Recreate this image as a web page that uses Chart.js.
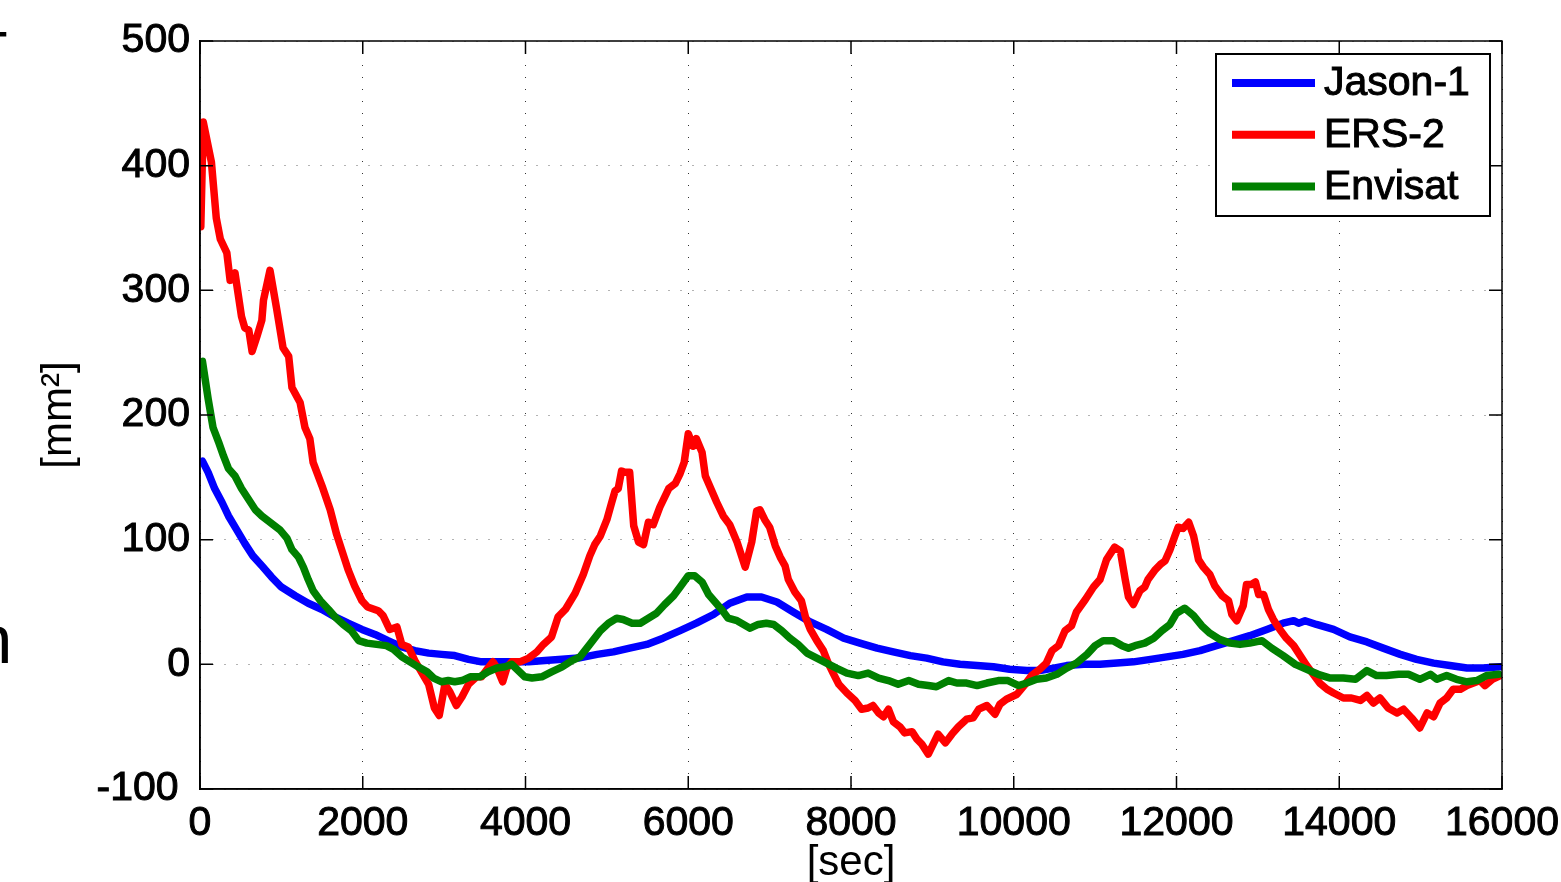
<!DOCTYPE html>
<html>
<head>
<meta charset="utf-8">
<script src="https://cdn.jsdelivr.net/npm/chart.js@4.4.0/dist/chart.umd.min.js"></script>
<style>
  html, body { margin: 0; padding: 0; background: #fff; }
  #wrap { width: 1561px; height: 882px; }
</style>
</head>
<body>
<div id="wrap"><canvas id="chart" width="1561" height="882"></canvas></div>
<script>
const FONT = "'Liberation Sans', Arial, Helvetica, sans-serif"

const seriesNames = ['Jason-1', 'ERS-2', 'Envisat']
const seriesColors = ['#0000ff', '#ff0000', '#008000']

// time [sec] and value [mm^2] per satellite
const jasonT = [30, 100, 180, 270, 350, 450, 550, 650, 760, 880,
  1000, 1170, 1330, 1500, 1660, 1820, 1990, 2150, 2310, 2480,
  2640, 2810, 2970, 3130, 3300, 3460, 3630, 3830, 4040, 4240,
  4450, 4650, 4880, 5080, 5280, 5490, 5690, 5900, 6100, 6310,
  6510, 6720, 6900, 7090, 7290, 7500, 7700, 7910, 8110, 8320,
  8520, 8730, 8930, 9130, 9340, 9550, 9750, 9950, 10160, 10320,
  10490, 10650, 10860, 11060, 11270, 11470, 11680, 11880, 12080, 12290,
  12490, 12700, 12900, 13110, 13310, 13440, 13500, 13580, 13720, 13930,
  14130, 14340, 14540, 14750, 14950, 15160, 15360, 15570, 15770, 15980]
const jasonV = [163, 154, 141, 130, 119, 108, 97, 87, 79, 70,
  62, 55, 49, 44, 38, 33, 28, 24, 19, 14,
  11, 9, 8, 7, 4, 2, 2, 2, 2, 3,
  4, 5, 8, 10, 13, 16, 21, 27, 33, 40,
  49, 54, 54, 50, 42, 34, 28, 21, 17, 13,
  10, 7, 5, 2, 0, -1, -2, -4, -5, -5,
  -3, -1, 0, 0, 1, 2, 4, 6, 8, 11,
  15, 19, 23, 28, 33, 35, 33, 35, 32, 28,
  22, 18, 13, 8, 4, 1, -1, -3, -3, -2]

const ersT = [10, 40, 140, 200, 250, 330, 370, 430, 510, 550,
  600, 640, 700, 760, 780, 860, 940, 1020, 1090, 1130,
  1230, 1290, 1350, 1390, 1500, 1600, 1680, 1740, 1820, 1900,
  1990, 2060, 2190, 2250, 2330, 2420, 2480, 2560, 2640, 2720,
  2810, 2880, 2940, 3010, 3070, 3150, 3220, 3300, 3400, 3460,
  3540, 3600, 3650, 3720, 3770, 3830, 3930, 4040, 4140, 4220,
  4320, 4400, 4490, 4610, 4710, 4790, 4850, 4920, 5000, 5060,
  5100, 5140, 5180, 5220, 5280, 5330, 5390, 5450, 5510, 5570,
  5650, 5760, 5840, 5900, 5950, 6000, 6060, 6100, 6170, 6210,
  6290, 6350, 6430, 6510, 6600, 6700, 6780, 6840, 6880, 6940,
  7000, 7070, 7130, 7190, 7230, 7310, 7390, 7440, 7500, 7580,
  7660, 7720, 7780, 7850, 7950, 8050, 8130, 8210, 8270, 8340,
  8400, 8460, 8520, 8600, 8660, 8750, 8810, 8870, 8950, 9010,
  9070, 9160, 9240, 9320, 9420, 9500, 9570, 9670, 9770, 9830,
  9910, 10040, 10140, 10220, 10320, 10400, 10470, 10550, 10630, 10710,
  10770, 10880, 10980, 11060, 11140, 11240, 11310, 11370, 11410, 11470,
  11550, 11610, 11650, 11740, 11800, 11860, 11920, 11980, 12020, 12080,
  12150, 12210, 12270, 12330, 12410, 12470, 12560, 12640, 12680, 12740,
  12820, 12860, 12920, 12970, 13010, 13070, 13130, 13190, 13270, 13350,
  13440, 13520, 13600, 13680, 13760, 13850, 13930, 14050, 14150, 14260,
  14340, 14420, 14500, 14600, 14710, 14790, 14890, 14990, 15080, 15160,
  15240, 15320, 15400, 15490, 15570, 15650, 15730, 15790, 15880, 15980]
const ersV = [351, 435, 403, 358, 341, 330, 308, 314, 279, 270,
  268, 251, 263, 276, 292, 316, 286, 254, 247, 222,
  210, 190, 181, 162, 143, 124, 104, 92, 76, 63,
  51, 46, 43, 39, 28, 30, 16, 14, 3, -6,
  -16, -35, -41, -16, -22, -33, -26, -16, -10, -10,
  -3, 2, -3, -14, -3, 2, 2, 5, 10, 16,
  22, 38, 44, 57, 72, 87, 96, 103, 116, 130,
  139, 141, 155, 154, 154, 111, 98, 96, 114, 112,
  126, 141, 145, 153, 162, 185, 175, 181, 170, 151,
  139, 130, 119, 112, 98, 78, 98, 123, 124, 116,
  110, 95, 86, 79, 68, 58, 51, 38, 28, 19,
  11, 1, -7, -16, -23, -29, -36, -35, -33, -39,
  -42, -36, -46, -50, -55, -54, -60, -64, -72, -64,
  -56, -63, -56, -50, -44, -43, -36, -33, -40, -32,
  -28, -24, -16, -9, -4, 1, 11, 15, 27, 31,
  42, 52, 62, 68, 84, 94, 91, 68, 54, 48,
  59, 62, 68, 76, 80, 83, 92, 103, 110, 109,
  114, 103, 84, 78, 72, 63, 55, 51, 40, 35,
  47, 64, 64, 66, 56, 56, 44, 36, 28, 21,
  15, 7, -1, -8, -15, -20, -23, -27, -27, -29,
  -25, -31, -27, -35, -39, -36, -43, -51, -39, -42,
  -31, -27, -20, -20, -17, -15, -13, -17, -12, -9]

const envT = [30, 100, 160, 230, 290, 350, 430, 510, 590, 680,
  760, 820, 900, 980, 1070, 1130, 1210, 1270, 1330, 1390,
  1480, 1580, 1660, 1760, 1860, 1950, 2050, 2170, 2290, 2380,
  2480, 2580, 2680, 2790, 2870, 2970, 3050, 3130, 3220, 3320,
  3440, 3540, 3650, 3750, 3830, 3910, 3990, 4080, 4200, 4320,
  4450, 4570, 4670, 4790, 4920, 5020, 5120, 5200, 5310, 5410,
  5510, 5610, 5710, 5820, 5900, 6000, 6080, 6170, 6250, 6330,
  6410, 6490, 6600, 6680, 6760, 6860, 6960, 7050, 7150, 7250,
  7350, 7460, 7580, 7700, 7820, 7950, 8090, 8210, 8340, 8460,
  8580, 8710, 8830, 8950, 9050, 9200, 9300, 9420, 9550, 9670,
  9810, 9930, 10060, 10160, 10280, 10400, 10530, 10650, 10770, 10900,
  11000, 11100, 11220, 11330, 11410, 11490, 11610, 11720, 11820, 11920,
  12000, 12100, 12210, 12310, 12410, 12530, 12660, 12780, 12900, 13050,
  13170, 13310, 13460, 13600, 13740, 13890, 14050, 14200, 14340, 14460,
  14580, 14730, 14850, 14990, 15120, 15200, 15320, 15440, 15570, 15690,
  15810, 15960]
const envV = [243, 213, 190, 178, 167, 157, 151, 141, 133, 124,
  119, 116, 112, 108, 101, 92, 86, 78, 68, 59,
  51, 44, 38, 32, 27, 19, 17, 16, 15, 12,
  6, 2, -2, -6, -11, -14, -13, -14, -13, -10,
  -10, -6, -3, -2, 0, -5, -10, -11, -10, -6,
  -2, 3, 6, 16, 27, 33, 37, 36, 33, 33,
  37, 41, 48, 55, 62, 71, 71, 66, 56, 50,
  44, 37, 35, 32, 29, 32, 33, 32, 27, 21,
  16, 9, 5, 1, -3, -7, -9, -7, -11, -13,
  -16, -13, -16, -17, -18, -13, -15, -15, -17, -15,
  -13, -13, -17, -15, -12, -11, -8, -3, 1, 8,
  15, 19, 19, 15, 13, 15, 17, 21, 27, 32,
  41, 45, 39, 31, 25, 20, 17, 16, 17, 19,
  13, 7, 0, -4, -8, -11, -11, -12, -5, -9,
  -9, -8, -8, -12, -8, -12, -9, -12, -14, -13,
  -9, -8]

const xMin = 0, xMax = 16000, xStep = 2000
const yMin = -100, yMax = 500, yStep = 100

function toPoints(ts, vs) {
  return ts.map((t, i) => ({ x: t, y: vs[i] }))
}

// matlab style box: solid frame with inward ticks on all four sides
const matlabBox = {
  id: 'matlabBox',
  afterDatasetsDraw(chart) {
    const { ctx, chartArea: a, scales: { x, y } } = chart
    const len = 13
    ctx.save()
    ctx.strokeStyle = '#000'
    ctx.lineWidth = 1.5
    ctx.strokeRect(a.left, a.top, a.right - a.left, a.bottom - a.top)
    ctx.beginPath()
    x.ticks.forEach(t => {
      const px = x.getPixelForValue(t.value)
      ctx.moveTo(px, a.bottom); ctx.lineTo(px, a.bottom - len)
      ctx.moveTo(px, a.top); ctx.lineTo(px, a.top + len)
    })
    y.ticks.forEach(t => {
      const py = y.getPixelForValue(t.value)
      ctx.moveTo(a.left, py); ctx.lineTo(a.left + len, py)
      ctx.moveTo(a.right, py); ctx.lineTo(a.right - len, py)
    })
    ctx.stroke()
    ctx.restore()
  }
}

// legend box in the upper right corner of the axes
const boxLegend = {
  id: 'boxLegend',
  afterDraw(chart) {
    const { ctx, chartArea: a } = chart
    const w = 274, h = 162
    const left = a.right - 12 - w
    const top = a.top + 13
    ctx.save()
    ctx.fillStyle = '#fff'
    ctx.fillRect(left, top, w, h)
    ctx.strokeStyle = '#000'
    ctx.lineWidth = 2
    ctx.strokeRect(left, top, w, h)
    ctx.font = '41px ' + FONT
    ctx.textBaseline = 'middle'
    ctx.textAlign = 'left'
    chart.data.datasets.forEach((ds, i) => {
      const cy = top + 29 + i * 51.7
      ctx.strokeStyle = ds.borderColor
      ctx.lineWidth = 8
      ctx.beginPath()
      ctx.moveTo(left + 16, cy)
      ctx.lineTo(left + 99, cy)
      ctx.stroke()
      ctx.fillStyle = '#000'
      ctx.strokeStyle = '#000'
      ctx.lineWidth = 1
      ctx.fillText(ds.label, left + 108, cy + 1)
      ctx.strokeText(ds.label, left + 108, cy + 1)
    })
    ctx.restore()
  }
}

// bits of the neighbouring panel's labels, cut by the left edge
const edgeText = {
  id: 'edgeText',
  afterDraw(chart) {
    const { ctx } = chart
    ctx.save()
    ctx.fillStyle = '#000'
    ctx.textAlign = 'left'
    ctx.textBaseline = 'alphabetic'
    ctx.font = '60px ' + FONT
    ctx.fillText('T', -29, 73)
    ctx.font = '69px ' + FONT
    ctx.fillText('n', -26, 663)
    ctx.restore()
  }
}

const datasets = [
  [jasonT, jasonV, 3],
  [ersT, ersV, 2],
  [envT, envV, 1]
].map(([ts, vs, ord], i) => ({
  label: seriesNames[i],
  data: toPoints(ts, vs),
  borderColor: seriesColors[i],
  backgroundColor: seriesColors[i],
  borderWidth: 7.5,
  showLine: true,
  pointRadius: 0,
  tension: 0,
  order: ord
}))

new Chart(document.getElementById('chart'), {
  type: 'scatter',
  data: { datasets: datasets },
  options: {
    responsive: false,
    animation: false,
    layout: { padding: { top: 41, right: 59, left: 0, bottom: 0 } },
    elements: { line: { borderJoinStyle: 'round', borderCapStyle: 'round' } },
    plugins: {
      legend: { display: false },
      tooltip: { enabled: false }
    },
    scales: {
      x: {
        type: 'linear',
        min: xMin, max: xMax,
        afterFit(s) {
          s.height = 93
          s.paddingLeft = 0
          s.paddingRight = 0
        },
        ticks: {
          stepSize: xStep,
          autoSkip: false,
          maxRotation: 0,
          padding: 10,
          color: '#000',
          textStrokeColor: '#000',
          textStrokeWidth: 1,
          font: { family: FONT, size: 41 },
          callback: v => String(v)
        },
        grid: { drawTicks: false, color: '#333', lineWidth: 1 },
        border: { display: true, color: '#000', width: 1.5, dash: [1, 11] },
        title: {
          display: true, text: '[sec]', color: '#000',
          font: { family: FONT, size: 42 },
          padding: { top: 0, bottom: -7 }
        }
      },
      y: {
        type: 'linear',
        min: yMin, max: yMax,
        afterFit(s) { s.width = 200 },
        ticks: {
          stepSize: yStep,
          padding: 10,
          color: '#000',
          textStrokeColor: '#000',
          textStrokeWidth: 1,
          font: { family: FONT, size: 41 },
          callback: v => v === yMin ? String(v) + ' ' : String(v)
        },
        grid: { drawTicks: false, color: '#666', lineWidth: 1 },
        border: { display: true, color: '#000', width: 1.5, dash: [1, 11] },
        title: {
          display: true, text: '[mm²]', color: '#000',
          font: { family: FONT, size: 42 },
          padding: { top: 34, bottom: 0 }
        }
      }
    }
  },
  plugins: [matlabBox, boxLegend, edgeText]
})
</script>
</body>
</html>
